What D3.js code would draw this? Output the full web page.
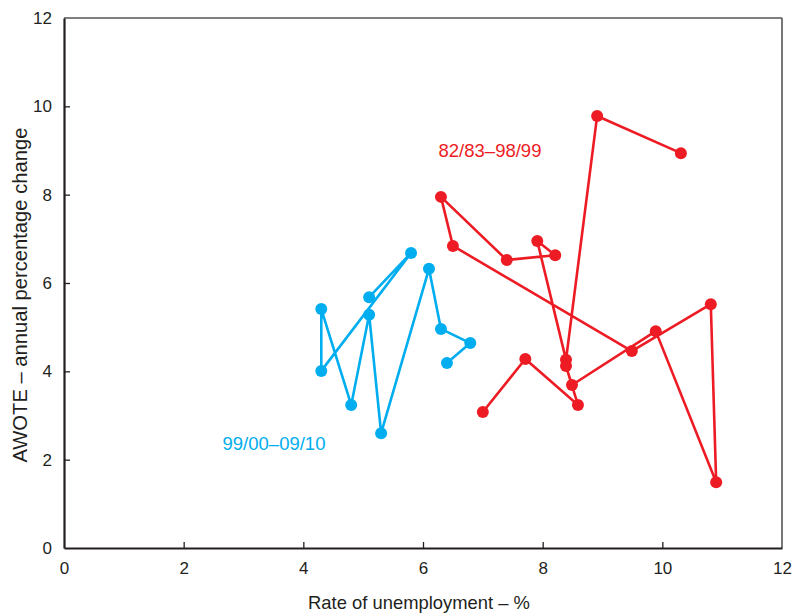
<!DOCTYPE html>
<html><head><meta charset="utf-8">
<script src="https://cdn.jsdelivr.net/npm/d3@7"></script>
<style>body{margin:0;background:#fff}svg{display:block}text{font-family:"Liberation Sans",Arial,sans-serif}</style>
</head><body>
<svg id="c" width="797" height="615"></svg>
<script>
const xTicks = [0, 2, 4, 6, 8, 10, 12];
const yTicks = [0, 2, 4, 6, 8, 10, 12];
const seriesNames = ["82/83–98/99", "99/00–09/10"];
// 82/83–98/99 path (unemployment %, AWOTE % change)
const redX = [10.31, 8.91, 8.39, 7.91, 8.21, 7.40, 6.30, 6.50, 9.49, 10.81, 10.90, 9.89, 8.49, 8.39, 8.59, 7.71, 7.00];
const redY = [8.94, 9.78, 4.26, 6.95, 6.63, 6.52, 7.95, 6.84, 4.46, 5.52, 1.49, 4.91, 3.69, 4.12, 3.24, 4.28, 3.08];
// 99/00–09/10 path
const blueX = [6.40, 6.79, 6.30, 6.10, 5.30, 5.10, 4.80, 4.30, 4.30, 5.80, 5.10];
const blueY = [4.19, 4.64, 4.96, 6.32, 2.60, 5.28, 3.24, 5.41, 4.01, 6.68, 5.68];

const svg = d3.select("#c");
const L = 64, R = 782, T = 18, B = 548;
const x = d3.scaleLinear().domain([0, 12]).range([L, R]);
const y = d3.scaleLinear().domain([0, 12]).range([B, T]);
const ink = "#231f20";

// frame top/right
svg.append("line").attr("x1", L).attr("x2", R).attr("y1", T).attr("y2", T).attr("stroke", "#555").attr("stroke-width", 1.6);
svg.append("line").attr("x1", R).attr("x2", R).attr("y1", T).attr("y2", B).attr("stroke", "#555").attr("stroke-width", 1.6);

const xAxis = svg.append("g").attr("transform", `translate(0,${B})`)
  .call(d3.axisBottom(x).tickValues(xTicks).tickSize(-6).tickSizeOuter(0).tickPadding(14));
const yAxis = svg.append("g").attr("transform", `translate(${L},0)`)
  .call(d3.axisLeft(y).tickValues(yTicks).tickSize(-6).tickSizeOuter(0).tickPadding(12));
[xAxis, yAxis].forEach(g => {
  g.select(".domain").attr("stroke", ink).attr("stroke-width", 2.2);
  g.selectAll(".tick line").attr("stroke", ink).attr("stroke-width", 1.3);
  g.selectAll(".tick text").attr("fill", ink).attr("font-size", 17).style("font-family", '"Liberation Sans",Arial,sans-serif');
});
xAxis.selectAll(".tick").filter(d => d === 0 || d === 12).select("line").remove();
yAxis.selectAll(".tick").filter(d => d === 0 || d === 12).select("line").remove();

svg.append("text").attr("x", 419).attr("y", 609).attr("text-anchor", "middle")
  .attr("font-size", 18.4).attr("fill", ink).text("Rate of unemployment – %");
svg.append("text").attr("transform", "translate(27,295) rotate(-90)").attr("text-anchor", "middle")
  .attr("font-size", 20.2).attr("fill", ink).text("AWOTE – annual percentage change");

function draw(xs, ys, color) {
  const pts = xs.map((v, i) => [v, ys[i]]);
  svg.append("path").datum(pts)
    .attr("d", d3.line().x(d => x(d[0])).y(d => y(d[1])))
    .attr("fill", "none").attr("stroke", color).attr("stroke-width", 2.6).attr("stroke-linejoin", "round");
  svg.append("g").selectAll("circle").data(pts).join("circle")
    .attr("cx", d => x(d[0])).attr("cy", d => y(d[1])).attr("r", 6).attr("fill", color);
}
const red = "#ed1c24", blue = "#00aeef";
draw(redX, redY, red);
draw(blueX, blueY, blue);

svg.append("text").attr("x", 490).attr("y", 157).attr("text-anchor", "middle")
  .attr("font-size", 18.5).attr("fill", red).text(seriesNames[0]);
svg.append("text").attr("x", 274).attr("y", 450).attr("text-anchor", "middle")
  .attr("font-size", 18.5).attr("fill", blue).text(seriesNames[1]);
</script>
</body></html>
